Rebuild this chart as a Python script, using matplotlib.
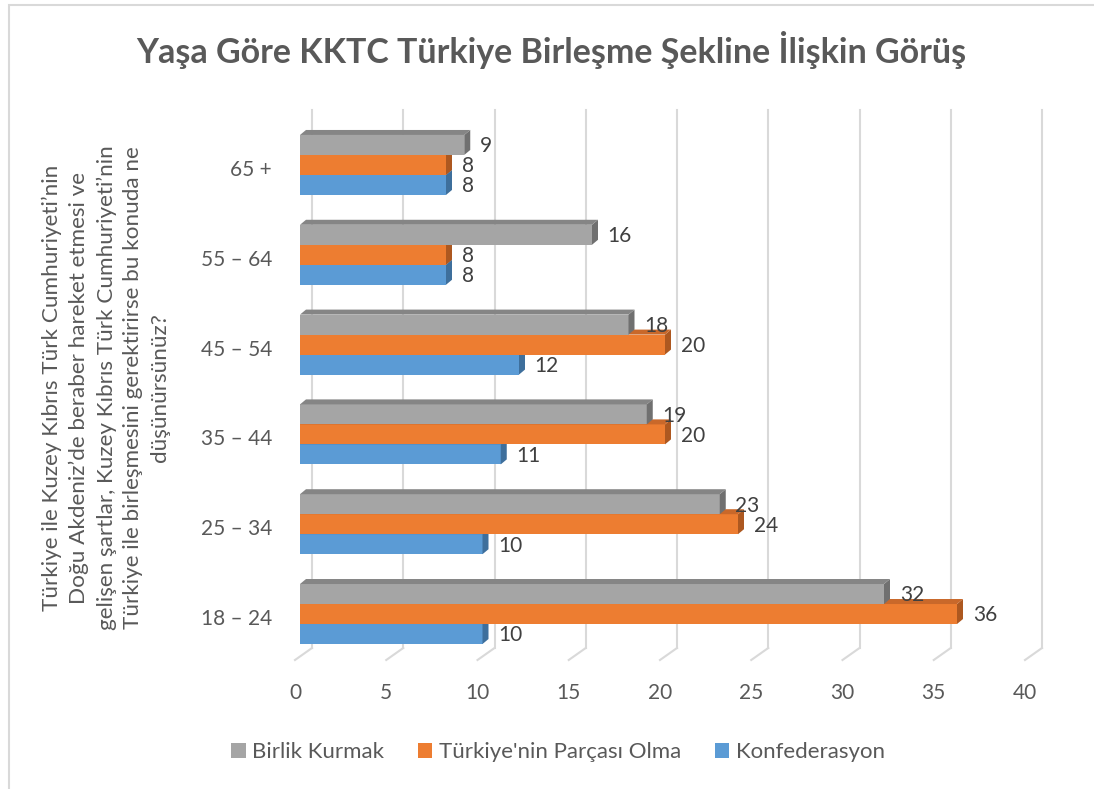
import matplotlib.pyplot as plt
from matplotlib.patches import Polygon, Rectangle, Patch
from matplotlib.transforms import ScaledTranslation, blended_transform_factory

plt.rcParams['font.family'] = ['Lato', 'DejaVu Sans']

# veriler
yas_gruplari = ['18 – 24', '25 – 34', '35 – 44', '45 – 54', '55 – 64', '65 +']
birlik_kurmak = [32, 23, 19, 18, 16, 9]
parcasi_olma = [36, 24, 20, 20, 8, 8]
konfederasyon = [10, 10, 11, 12, 8, 8]
x_ticks = [0, 5, 10, 15, 20, 25, 30, 35, 40]

baslik = 'Yaşa Göre KKTC Türkiye Birleşme Şekline İlişkin Görüş'
y_etiketi = ('Türkiye ile Kuzey Kıbrıs Türk Cumhuriyeti’nin\n'
             'Doğu Akdeniz’de beraber hareket etmesi ve\n'
             'gelişen şartlar, Kuzey Kıbrıs Türk Cumhuriyeti’nin\n'
             'Türkiye ile birleşmesini gerektirirse bu konuda ne\n'
             'düşünürsünüz?')

# (isim, degerler, on yuz, yan yuz, ust yuz, kayma)
seriler = [
    ('Konfederasyon', konfederasyon, '#5B9BD5', '#3E6F9C', '#4A82B6', -1),
    ("Türkiye'nin Parçası Olma", parcasi_olma, '#ED7D31', '#AD5820', '#C9682A', 0),
    ('Birlik Kurmak', birlik_kurmak, '#A5A5A5', '#707070', '#858585', 1),
]

W, H = 1094, 789
fig = plt.figure(figsize=(W / 100, H / 100), dpi=100)
ax_left, ax_right, ax_top, ax_bottom = 300, 1030, 110, 660
ax = fig.add_axes([ax_left / W, 1 - ax_bottom / H,
                   (ax_right - ax_left) / W, (ax_bottom - ax_top) / H])
ylo, yhi = -0.512, 5.612
ax.set_xlim(0, 40)
ax.set_ylim(ylo, yhi)
ax.axis('off')

px_x = (ax_right - ax_left) / 40
px_y = (ax_bottom - ax_top) / (yhi - ylo)

yazi_rengi = '#595959'
izgara = '#D9D9D9'

# arka duvar ve zemin cizgileri
wall_dx, wall_dy, front_dx = 12 / px_x, 12 / px_y, -5 / px_x
for t in x_ticks:
    ax.plot([t + front_dx, t + wall_dx], [ylo, ylo + wall_dy],
            color=izgara, lw=1.5, zorder=1, clip_on=False)
    ax.plot([t + wall_dx, t + wall_dx], [ylo + wall_dy, yhi],
            color=izgara, lw=1.5, zorder=1, clip_on=False)

# 3 boyutlu gorunumlu cubuklar
bar_h = 20 / px_y
dx, dy = 6 / px_x, 5 / px_y
for z, (isim, degerler, on, yan, ust, k) in enumerate(seriler):
    for i, v in enumerate(degerler):
        p = i + k * bar_h
        alt, ustk = p - bar_h / 2, p + bar_h / 2
        ax.barh(p, v, height=bar_h, color=on, linewidth=0, zorder=3 + z)
        ax.add_patch(Polygon([(v, alt), (v + dx, alt + dy), (v + dx, ustk + dy), (v, ustk)],
                             closed=True, facecolor=yan, linewidth=0, zorder=3 + z))
        ax.add_patch(Polygon([(0, ustk), (dx, ustk + dy), (v + dx, ustk + dy), (v, ustk)],
                             closed=True, facecolor=ust, linewidth=0, zorder=3 + z))
        ax.annotate(str(v), (v + dx, p), xytext=(7, -1), textcoords='offset points',
                    ha='left', va='center', fontsize=15, color='#404040', zorder=10)

# eksen etiketleri
trans_x = blended_transform_factory(ax.transData, ax.transAxes)
for t in x_ticks:
    ax.text(t + front_dx, 0, str(t), transform=trans_x + ScaledTranslation(0, -0.33, fig.dpi_scale_trans),
            ha='center', va='center', fontsize=15, color=yazi_rengi)
for i, lbl in enumerate(yas_gruplari):
    ax.text(-28 / px_x, i - 5 / px_y, lbl, ha='right', va='center',
            fontsize=15, color=yazi_rengi)

fig.text(106 / W, 1 - 388 / H, y_etiketi, rotation=90, ha='center', va='center',
         multialignment='center', linespacing=1.42, fontsize=16.2, color=yazi_rengi)

fig.text(551 / W, 1 - 50 / H, baslik, ha='center', va='center',
         fontsize=24.5, fontweight='bold', color=yazi_rengi)

# lejant
handles = [Patch(facecolor=s[2]) for s in seriler[::-1]]
labels = [s[0] for s in seriler[::-1]]
fig.legend(handles, labels, loc='center', bbox_to_anchor=(558 / W, 1 - 752 / H), ncol=3,
           frameon=False, fontsize=16, handlelength=0.65, handleheight=0.65,
           handletextpad=0.3, columnspacing=1.5, labelcolor=yazi_rengi)

# grafik cercevesi
fig.add_artist(Rectangle((9 / W, -0.05), 1.2, 1.05 - 5 / H, transform=fig.transFigure,
                         fill=False, edgecolor=izgara, linewidth=1.5))

fig.savefig('out.png', dpi=100, facecolor='white')
